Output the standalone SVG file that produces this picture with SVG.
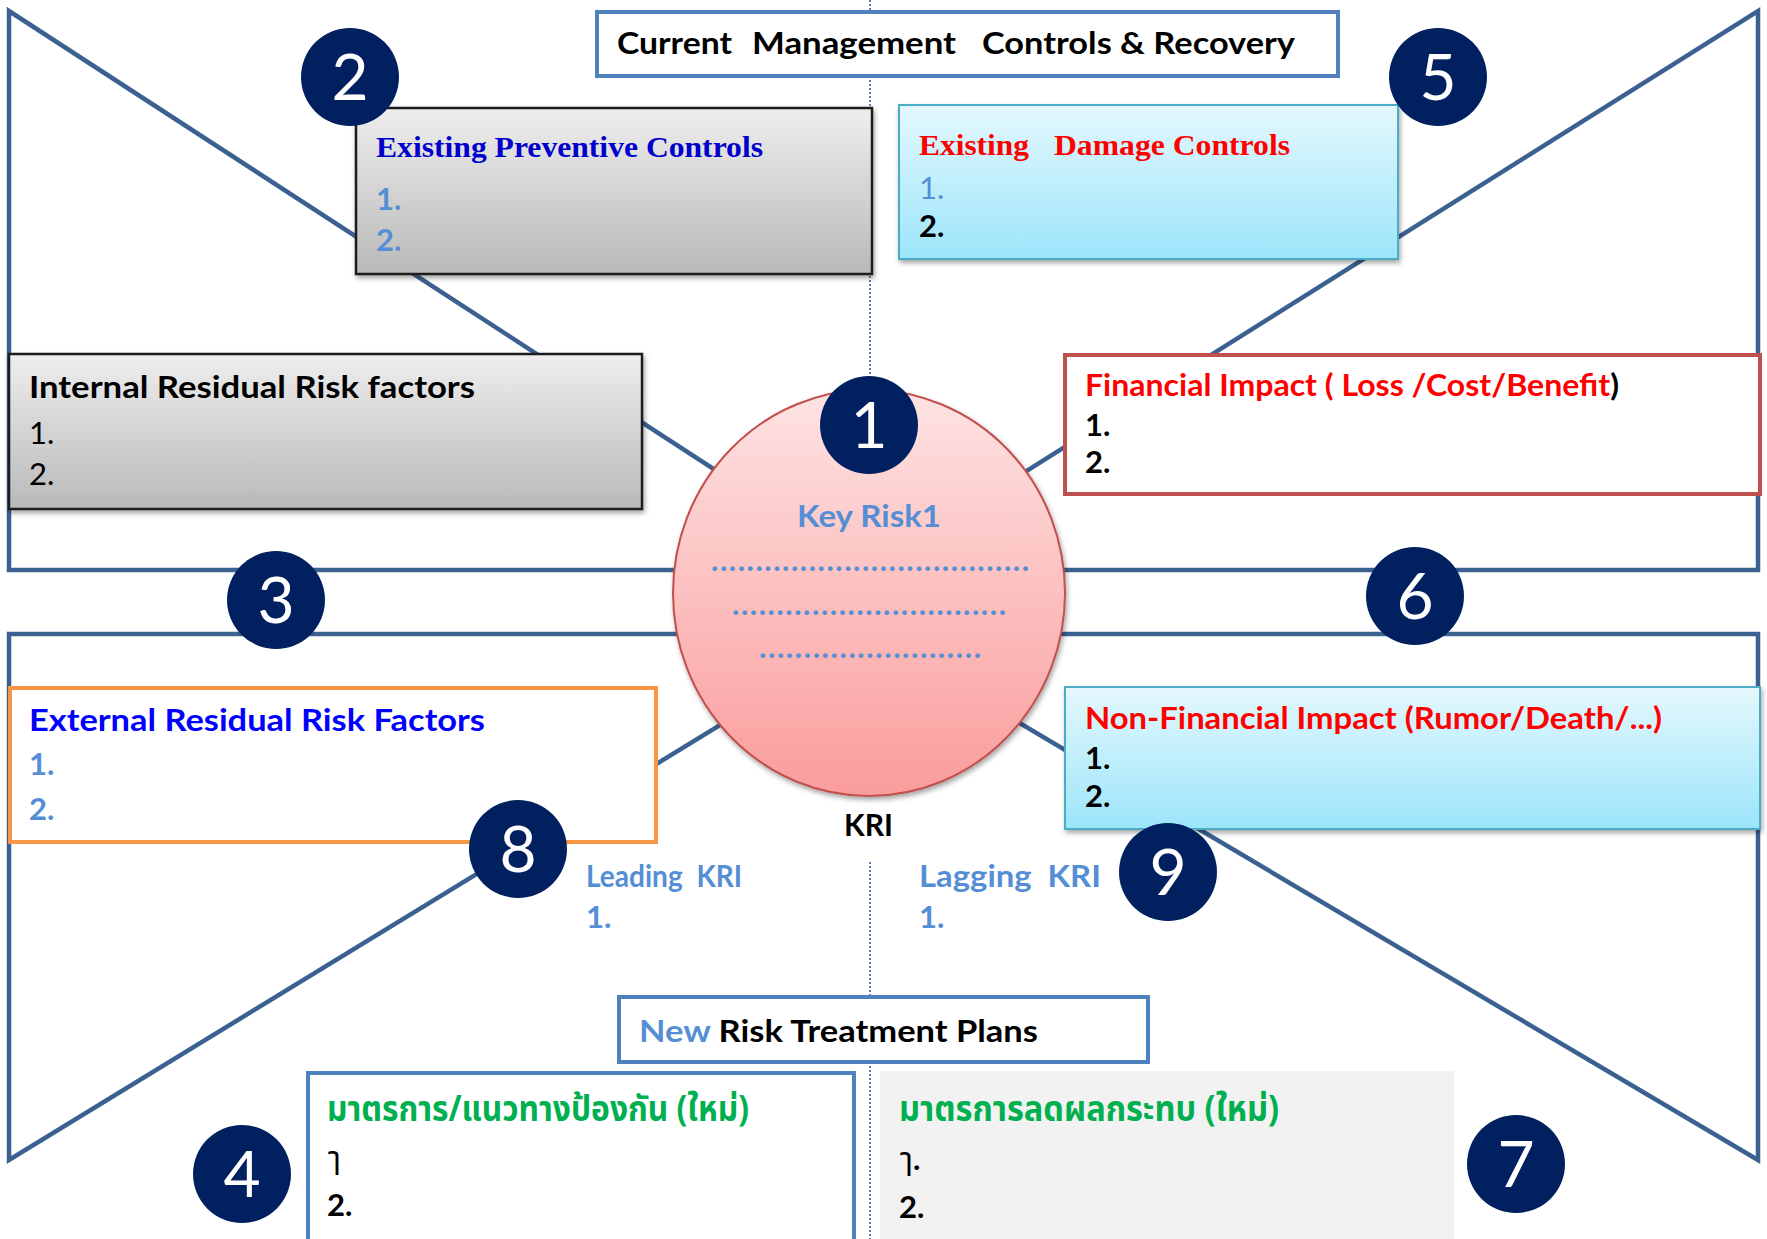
<svg xmlns="http://www.w3.org/2000/svg" width="1767" height="1239" viewBox="0 0 1767 1239">
<defs>
  <linearGradient id="gGray" x1="0" y1="0" x2="0" y2="1">
    <stop offset="0" stop-color="#eeeeee"/>
    <stop offset="1" stop-color="#b9b9b9"/>
  </linearGradient>
  <linearGradient id="gCyan" x1="0" y1="0" x2="0" y2="1">
    <stop offset="0" stop-color="#e4f8fd"/>
    <stop offset="1" stop-color="#9ce5fa"/>
  </linearGradient>
  <linearGradient id="gPink" x1="0" y1="0" x2="0" y2="1">
    <stop offset="0" stop-color="#fee3e3"/>
    <stop offset="1" stop-color="#fa9c9c"/>
  </linearGradient>
  <filter id="shadow" x="-5%" y="-10%" width="115%" height="130%">
    <feDropShadow dx="1.5" dy="3" stdDeviation="2.5" flood-color="#000" flood-opacity="0.35"/>
  </filter>
</defs>
<style>
  .frame{fill:none;stroke:#3b6191;stroke-width:4.5;stroke-linejoin:miter}
  .vdot{stroke:#4f81bd;stroke-width:2;stroke-dasharray:2 2}
  .badge circle{fill:#002060}
  .badge text{fill:#ffffff;font-family:Lato,"Open Sans",sans-serif;font-size:64px;text-anchor:middle}
  .cal{font-family:Lato,"Liberation Sans",sans-serif;font-size:31px}
  .b{font-weight:bold}
  .serif{font-family:"Liberation Serif",serif;font-weight:bold;font-size:30px}
  .lb{fill:#558ed5}
  .red{fill:#ff0000}
  .blk{fill:#000000}
  .thai{font-family:"Noto Sans Thai","Noto Sans","DejaVu Sans",sans-serif;font-size:35px}
  .thai-s{font-family:"Noto Sans Thai","Noto Sans","DejaVu Sans",sans-serif;font-size:32px}
  .green{fill:#00b050}
  .pre{white-space:pre}
</style>

<rect x="0" y="0" width="1767" height="1239" fill="#ffffff"/>

<g id="axis">
  <line class="vdot" x1="870" y1="0" x2="870" y2="392"/>
  <line class="vdot" x1="870" y1="862" x2="870" y2="1239"/>
</g>

<g id="connectors">
  <polygon class="frame" points="9,11 9,570 869,570"/>
  <polygon class="frame" points="1758,11 1758,570 869,570"/>
  <polygon class="frame" points="9,634 9,1160 869,634"/>
  <polygon class="frame" points="1758,634 1758,1160 869,634"/>
</g>

<g id="title-current">
  <rect x="597" y="12" width="741" height="64" fill="#ffffff" stroke="#4f81bd" stroke-width="4"/>
  <text class="cal b blk" y="54"><tspan x="617" textLength="115" lengthAdjust="spacingAndGlyphs">Current</tspan><tspan x="752" textLength="204" lengthAdjust="spacingAndGlyphs">Management</tspan><tspan x="982" textLength="313" lengthAdjust="spacingAndGlyphs">Controls &amp; Recovery</tspan></text>
</g>

<g id="preventive-controls">
  <rect x="356" y="108" width="516" height="166" fill="url(#gGray)" stroke="#1a1a1a" stroke-width="2.5" filter="url(#shadow)"/>
  <text class="serif" x="376" y="157" fill="#0000cc" textLength="387" lengthAdjust="spacingAndGlyphs">Existing Preventive Controls</text>
  <text class="cal b lb" x="376" y="210">1.</text>
  <text class="cal b lb" x="376" y="251">2.</text>
</g>

<g id="damage-controls">
  <rect x="899" y="105" width="499" height="154" fill="url(#gCyan)" stroke="#4bacc6" stroke-width="2" filter="url(#shadow)"/>
  <text class="serif red" y="155"><tspan x="919" textLength="110" lengthAdjust="spacingAndGlyphs">Existing</tspan><tspan x="1054" textLength="236" lengthAdjust="spacingAndGlyphs">Damage Controls</tspan></text>
  <text class="cal lb" x="919" y="199">1.</text>
  <text class="cal b blk" x="919" y="237">2.</text>
</g>

<g id="internal-factors">
  <rect x="9" y="354" width="633" height="155" fill="url(#gGray)" stroke="#1a1a1a" stroke-width="2.5" filter="url(#shadow)"/>
  <text class="cal b blk" x="29" y="398" textLength="446" lengthAdjust="spacingAndGlyphs">Internal Residual Risk factors</text>
  <text class="cal blk" x="29" y="444">1.</text>
  <text class="cal blk" x="29" y="485">2.</text>
</g>

<g id="financial-impact">
  <rect x="1065" y="355" width="695" height="139" fill="#ffffff" stroke="#c0504d" stroke-width="4"/>
  <text class="cal b" x="1085" y="396" textLength="534" lengthAdjust="spacingAndGlyphs"><tspan class="red">Financial Impact ( Loss /Cost/Benefit</tspan><tspan class="blk">)</tspan></text>
  <text class="cal b blk" x="1085" y="436">1.</text>
  <text class="cal b blk" x="1085" y="473">2.</text>
</g>

<g id="external-factors">
  <rect x="10" y="688" width="646" height="154" fill="#ffffff" stroke="#f79646" stroke-width="4"/>
  <text class="cal b" x="29" y="731" fill="#0000ff" textLength="456" lengthAdjust="spacingAndGlyphs">External Residual Risk Factors</text>
  <text class="cal b lb" x="29" y="775">1.</text>
  <text class="cal b lb" x="29" y="820">2.</text>
</g>

<g id="nonfinancial-impact">
  <rect x="1065" y="687" width="695" height="142" fill="url(#gCyan)" stroke="#4bacc6" stroke-width="2" filter="url(#shadow)"/>
  <text class="cal b red" x="1085" y="729" textLength="577" lengthAdjust="spacingAndGlyphs">Non-Financial Impact (Rumor/Death/...)</text>
  <text class="cal b blk" x="1085" y="769">1.</text>
  <text class="cal b blk" x="1085" y="807">2.</text>
</g>

<g id="key-risk">
  <ellipse cx="869" cy="593" rx="196" ry="203" fill="url(#gPink)" stroke="#c0504d" stroke-width="2" filter="url(#shadow)"/>
  <text class="cal b lb" x="797" y="527" font-size="33" textLength="144" lengthAdjust="spacingAndGlyphs">Key Risk1</text>
  <text class="cal b lb" x="711" y="571" textLength="318" lengthAdjust="spacing">....................................</text>
  <text class="cal b lb" x="732" y="615" textLength="274" lengthAdjust="spacing">...............................</text>
  <text class="cal b lb" x="759" y="658" textLength="222" lengthAdjust="spacing">.........................</text>
</g>

<g id="kri">
  <text class="cal b blk" x="844" y="836" textLength="49" lengthAdjust="spacingAndGlyphs">KRI</text>
</g>

<g id="leading-kri">
  <text class="cal b lb pre" x="586" y="887" textLength="156" lengthAdjust="spacingAndGlyphs">Leading  KRI</text>
  <text class="cal b lb" x="586" y="928">1.</text>
</g>

<g id="lagging-kri">
  <text class="cal b lb pre" x="919" y="887" textLength="182" lengthAdjust="spacingAndGlyphs">Lagging  KRI</text>
  <text class="cal b lb" x="919" y="928">1.</text>
</g>

<g id="treatment-title">
  <rect x="619" y="997" width="529" height="65" fill="#ffffff" stroke="#4f81bd" stroke-width="4"/>
  <text class="cal b" x="639" y="1042" textLength="399" lengthAdjust="spacingAndGlyphs"><tspan class="lb">New</tspan><tspan class="blk"> Risk Treatment Plans</tspan></text>
</g>

<g id="new-preventive">
  <rect x="308" y="1073" width="546" height="180" fill="#ffffff" stroke="#4f81bd" stroke-width="4"/>
  <text class="thai b green" x="327" y="1121" textLength="422" lengthAdjust="spacingAndGlyphs">มาตรการ/แนวทางป้องกัน (ใหม่)</text>
  <text class="thai-s blk" x="328" y="1169">ๅ</text>
  <text class="cal b blk" x="327" y="1216">2.</text>
</g>

<g id="new-mitigation">
  <rect x="880" y="1071" width="574" height="170" fill="#f2f2f2"/>
  <text class="thai b green" x="899" y="1121" textLength="380" lengthAdjust="spacingAndGlyphs">มาตรการลดผลกระทบ (ใหม่)</text>
  <text class="blk" x="900" y="1170"><tspan class="thai-s">ๅ</tspan><tspan class="cal b">.</tspan></text>
  <text class="cal b blk" x="899" y="1218">2.</text>
</g>

<g id="badge-1" class="badge"><circle cx="869" cy="425" r="49"/><text x="869" y="448">1</text></g>
<g id="badge-2" class="badge"><circle cx="350" cy="77" r="49"/><text x="350" y="100">2</text></g>
<g id="badge-3" class="badge"><circle cx="276" cy="600" r="49"/><text x="276" y="623">3</text></g>
<g id="badge-4" class="badge"><circle cx="242" cy="1174" r="49"/><text x="242" y="1197">4</text></g>
<g id="badge-5" class="badge"><circle cx="1438" cy="77" r="49"/><text x="1438" y="100">5</text></g>
<g id="badge-6" class="badge"><circle cx="1415" cy="596" r="49"/><text x="1415" y="619">6</text></g>
<g id="badge-7" class="badge"><circle cx="1516" cy="1164" r="49"/><text x="1516" y="1187">7</text></g>
<g id="badge-8" class="badge"><circle cx="518" cy="849" r="49"/><text x="518" y="872">8</text></g>
<g id="badge-9" class="badge"><circle cx="1168" cy="872" r="49"/><text x="1168" y="895">9</text></g>
</svg>
